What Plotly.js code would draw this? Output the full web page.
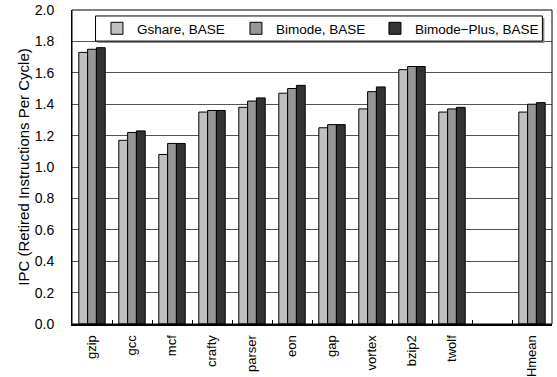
<!DOCTYPE html>
<html>
<head>
<meta charset="utf-8">
<script src="https://cdn.plot.ly/plotly-3.0.1.min.js"></script>
<style>
  html, body { margin: 0; padding: 0; background: #fff; }
  #chart { width: 557px; height: 377px; }
</style>
</head>
<body>
<div id="chart"></div>
<script>
// Benchmarks (one blank slot before the harmonic mean)
const benchmarks = ['gzip', 'gcc', 'mcf', 'crafty', 'parser', 'eon', 'gap', 'vortex', 'bzip2', 'twolf', ' ', 'Hmean'];

// IPC per predictor configuration
const gshareBase     = [1.73, 1.17, 1.08, 1.35, 1.38, 1.47, 1.25, 1.37, 1.62, 1.35, null, 1.35];
const bimodeBase     = [1.75, 1.22, 1.15, 1.36, 1.42, 1.50, 1.27, 1.48, 1.64, 1.37, null, 1.40];
const bimodePlusBase = [1.76, 1.23, 1.15, 1.36, 1.44, 1.52, 1.27, 1.51, 1.64, 1.38, null, 1.41];

const seriesNames = ['Gshare, BASE', 'Bimode, BASE', 'Bimode\u2212Plus, BASE'];
const yTicks = [0, 0.2, 0.4, 0.6, 0.8, 1.0, 1.2, 1.4, 1.6, 1.8, 2.0];

const FONT = 'Liberation Sans, Arial, sans-serif';
const fills = ['#c0c0c0', '#969696', '#333333'];

const traces = [gshareBase, bimodeBase, bimodePlusBase].map((vals, i) => ({
  type: 'bar',
  name: seriesNames[i],
  x: benchmarks,
  y: vals,
  marker: { color: fills[i], line: { color: '#000', width: 1 } },
  hoverinfo: 'x+y+name'
}));
// last legend entry gets room for its longer label
traces[2].legendwidth = 120;

// legend frame geometry (paper fractions of the plot area)
const lgX0 = 0.049, lgX1 = 0.980, lgY0 = 0.901, lgY1 = 0.981;
const px = 1 / 480, py = 1 / 314;

const layout = {
  width: 557,
  height: 377,
  margin: { l: 72, r: 5, t: 10, b: 53, pad: 0 },
  paper_bgcolor: '#fff',
  plot_bgcolor: '#fff',
  font: { family: FONT, size: 13, color: '#000' },
  barmode: 'group',
  bargap: 0.34,
  bargroupgap: 0,
  showlegend: true,
  legend: {
    orientation: 'h',
    x: 0.052, xanchor: 'left',
    y: (lgY0 + lgY1) / 2, yanchor: 'middle',
    bgcolor: 'rgba(0,0,0,0)',
    borderwidth: 0,
    entrywidth: 94,
    itemwidth: 30,
    font: { family: FONT, size: 13.5, color: '#000' },
    traceorder: 'normal'
  },
  xaxis: {
    type: 'category',
    categoryorder: 'array',
    categoryarray: benchmarks,
    tickangle: -90,
    ticks: 'inside',
    tickson: 'boundaries',
    ticklen: 4,
    tickcolor: '#000',
    tickwidth: 1,
    showline: true,
    linecolor: '#000',
    linewidth: 2,
    showgrid: false,
    ticklabelstandoff: 4,
    tickfont: { family: FONT, size: 13, color: '#000' },
    fixedrange: true
  },
  yaxis: {
    range: [0, 2.0],
    tickvals: yTicks,
    ticktext: yTicks.map(v => v.toFixed(1)),
    showline: true,
    linecolor: '#000',
    linewidth: 1,
    showgrid: true,
    gridcolor: '#555',
    gridwidth: 1,
    zeroline: false,
    ticks: '',
    ticklabelstandoff: 14,
    tickfont: { family: FONT, size: 14, color: '#000' },
    title: { text: 'IPC (Retired Instructions Per Cycle)', font: { family: FONT, size: 15, color: '#000' }, standoff: 1 },
    fixedrange: true
  },
  shapes: [
    // plot frame
    { type: 'rect', xref: 'paper', yref: 'paper', x0: 0, x1: 1, y0: 0, y1: 1,
      line: { color: '#000', width: 1 }, layer: 'above' },
    // legend drop shadow
    { type: 'rect', xref: 'paper', yref: 'paper',
      x0: lgX0 + 2 * px, x1: lgX1 + 2 * px, y0: lgY0 - 2 * py, y1: lgY1 - 2 * py,
      fillcolor: '#8a8a8a', line: { width: 0 }, layer: 'above' },
    // legend box
    { type: 'rect', xref: 'paper', yref: 'paper',
      x0: lgX0, x1: lgX1, y0: lgY0, y1: lgY1,
      fillcolor: '#fff', line: { color: '#000', width: 1 }, layer: 'above' }
  ]
};

Plotly.newPlot('chart', traces, layout, { displayModeBar: false, staticPlot: true });
</script>
</body>
</html>
